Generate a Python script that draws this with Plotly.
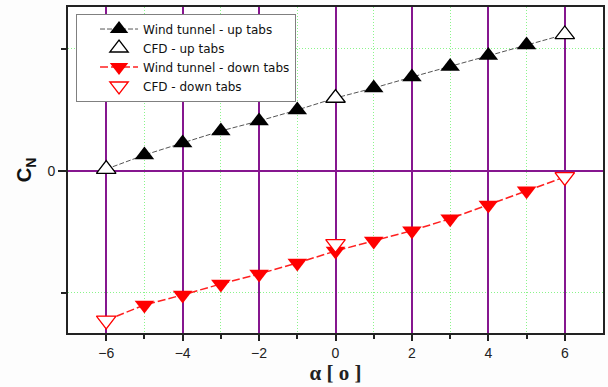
import plotly.graph_objects as go

alpha = [-6, -5, -4, -3, -2, -1, 0, 1, 2, 3, 4, 5, 6]
wt_up = [0.015, 0.131, 0.23, 0.328, 0.41, 0.50, 0.598, 0.68, 0.77, 0.856, 0.947, 1.033, 1.119]
cfd_alpha = [-6, 0, 6]
cfd_up = [0.015, 0.598, 1.119]
wt_down = [-1.225, -1.098, -1.016, -0.926, -0.844, -0.754, -0.656, -0.574, -0.489, -0.391, -0.279, -0.162, -0.049]
cfd_down = [-1.225, -0.598, -0.049]

x_ticks = [-6, -4, -2, 0, 2, 4, 6]
x_minor = [-5, -3, -1, 1, 3, 5]
y_ticks = [0]
y_ticktext = ["0"]
y_minor = [-1, 1]

PURPLE = "#86168f"
GREEN = "#8af58a"

fig = go.Figure()
fig.add_trace(go.Scatter(
    x=alpha, y=wt_up, mode="lines+markers", name="Wind tunnel - up tabs",
    line=dict(color="#555555", width=1, dash="5px,2px"),
    marker=dict(symbol="triangle-up", size=17, color="black")))
fig.add_trace(go.Scatter(
    x=cfd_alpha, y=cfd_up, mode="markers", name="CFD - up tabs",
    marker=dict(symbol="triangle-up", size=17, color="white",
                line=dict(color="black", width=1.3))))
fig.add_trace(go.Scatter(
    x=alpha, y=wt_down, mode="lines+markers", name="Wind tunnel - down tabs",
    line=dict(color="#ff2020", width=1.5, dash="8px,3px"),
    marker=dict(symbol="triangle-down", size=17, color="#ff0000")))
fig.add_trace(go.Scatter(
    x=cfd_alpha, y=cfd_down, mode="markers", name="CFD - down tabs",
    marker=dict(symbol="triangle-down", size=17, color="white",
                line=dict(color="#ff0000", width=1.3))))

fig.update_layout(
    width=608, height=387,
    margin=dict(l=68, r=3, t=7, b=54),
    paper_bgcolor="#fdfdfd", plot_bgcolor="white",
    font=dict(family="Arial, Liberation Sans, sans-serif", color="#222222", size=14),
    showlegend=True,
    legend=dict(x=0.015, y=0.98, xanchor="left", yanchor="top",
                bgcolor="white", bordercolor="#808080", borderwidth=1,
                font=dict(family="DejaVu Sans, Arial, sans-serif", size=12, color="#111111"),
                tracegroupgap=0, indentation=18, itemwidth=38),
)
fig.update_xaxes(
    range=[-7, 7], tickmode="array", tickvals=x_ticks, ticks="outside", ticklen=6, tickwidth=2,
    tickcolor="#222222", showline=True, linecolor="#222222", linewidth=2, mirror=True,
    showgrid=True, gridcolor=PURPLE, gridwidth=2, zeroline=False,
    minor=dict(tickmode="array", tickvals=x_minor, ticks="outside", ticklen=4, tickwidth=2,
               tickcolor="#222222", showgrid=True, gridcolor=GREEN,
               gridwidth=1, griddash="1px,2px"),
    title=dict(text="<b>α [ o ]</b>", standoff=6,
               font=dict(family="Liberation Serif, Times New Roman, serif", size=21, color="#222222")),
    tickfont=dict(size=14),
)
fig.update_yaxes(
    range=[-1.328, 1.344], tickmode="array", tickvals=y_ticks, ticktext=y_ticktext, ticks="outside",
    ticklen=8, tickwidth=2, tickcolor="#222222",
    showline=True, linecolor="#222222", linewidth=2, mirror=True,
    showgrid=True, gridcolor=PURPLE, gridwidth=2, zeroline=False,
    minor=dict(tickmode="array", tickvals=y_minor, ticks="outside", ticklen=5, tickwidth=2,
               tickcolor="#222222", showgrid=True, gridcolor=GREEN,
               gridwidth=1, griddash="1px,2px"),
    title=dict(text="<b>C<sub>N</sub></b>", standoff=10,
               font=dict(family="Arial, Liberation Sans, sans-serif", size=20, color="#111111")),
    tickfont=dict(size=14),
)

fig.write_html("out.html")
